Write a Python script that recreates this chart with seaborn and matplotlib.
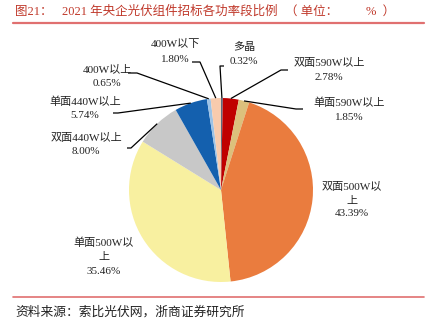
import matplotlib
matplotlib.use("Agg")
import matplotlib.pyplot as plt
import seaborn as sns
import numpy as np

sns.set_theme(style="white")
plt.rcParams['font.family'] = ['Liberation Serif', 'Noto Sans CJK SC', 'DejaVu Sans']

# ---- data ----
categories = ["多晶", "双面590W以上", "单面590W以上", "双面500W以上", "单面500W以上",
              "双面440W以上", "单面440W以上", "400W以上", "400W以下"]
shares = [0.32, 2.78, 1.85, 43.39, 35.46, 8.00, 5.74, 0.65, 1.80]
colors = ["#5B6B80", "#C00000", "#DCC07C", "#EA7C3E", "#F8F0A0",
          "#C8C8C8", "#1460AE", "#9DC3E6", "#F8CBAD"]
title_parts = ["图21：", "2021 年央企光伏组件招标各功率段比例", "（ 单位：", "%  ）"]
source = "资料来源：索比光伏网，浙商证券研究所"

# ---- layout (pixel space) ----
W, H = 432, 329
CX, CY, R = 221, 190, 92

def Y(py):
    return H - py

fig = plt.figure(figsize=(W / 100, H / 100), dpi=100)
ax = fig.add_axes([0, 0, 1, 1])
wedges, _ = ax.pie(shares, colors=colors, startangle=90, counterclock=False,
                   center=(CX, Y(CY)), radius=R,
                   wedgeprops=dict(linewidth=0))
ax.set_xlim(0, W)
ax.set_ylim(0, H)
ax.set_aspect('auto')
ax.axis('off')

# label layout: x-center, y of each line, leader start & elbow
label_layout = {
    "400W以下": dict(x=175, ys=[44, 59], lead=[(192, 62), (200, 62)]),
    "400W以上": dict(x=107, ys=[69, 83], lead=[(128, 73), (137, 73)]),
    "单面440W以上": dict(x=85, ys=[102, 116], lead=[(113, 113), (118, 113)]),
    "双面440W以上": dict(x=86, ys=[138, 152], lead=[(127, 148), (131, 148)]),
    "多晶": dict(x=244, ys=[47, 62], lead=[(224, 66), (220, 66)]),
    "双面590W以上": dict(x=329, ys=[63, 77], lead=[(288, 70), (281, 70)]),
    "单面590W以上": dict(x=349, ys=[103, 118], lead=[(303, 109), (296, 109)]),
    "双面500W以上": dict(x=352, ys=[187, 201, 214], split=7, lead=None),
    "单面500W以上": dict(x=104, ys=[243, 258, 272], split=7, lead=None),
}

txt_kw = dict(fontsize=8, color="#222222", ha="center", va="center")
for cat, val, w in zip(categories, shares, wedges):
    L = label_layout[cat]
    if "split" in L:
        lines = [cat[:L["split"]], cat[L["split"]:], f"{val:.2f}%"]
    else:
        lines = [cat, f"{val:.2f}%"]
    for t, yy in zip(lines, L["ys"]):
        ax.text(L["x"], Y(yy), t, **txt_kw)
    if L["lead"]:
        ang = np.deg2rad((w.theta1 + w.theta2) / 2)
        ex = CX + R * np.cos(ang)
        ey = Y(CY) + R * np.sin(ang)
        (sx, sy), (bx, by) = L["lead"]
        ax.plot([sx, bx, ex], [Y(sy), Y(by), ey], color="black", lw=0.9,
                solid_capstyle="butt")

# title, rules, source
for t, x in zip(title_parts, [15, 62, 285, 366]):
    ax.text(x, Y(12), t, fontsize=9, color="#C0392B", ha="left", va="center")
ax.plot([13, 424], [Y(23), Y(23)], color="#E07070", lw=1.6)
ax.plot([13, 424], [Y(297), Y(297)], color="#E07070", lw=1.2)
ax.text(15, Y(312), source, fontsize=9.2, color="#222222", ha="left", va="center")

fig.savefig("out.png", dpi=100)
